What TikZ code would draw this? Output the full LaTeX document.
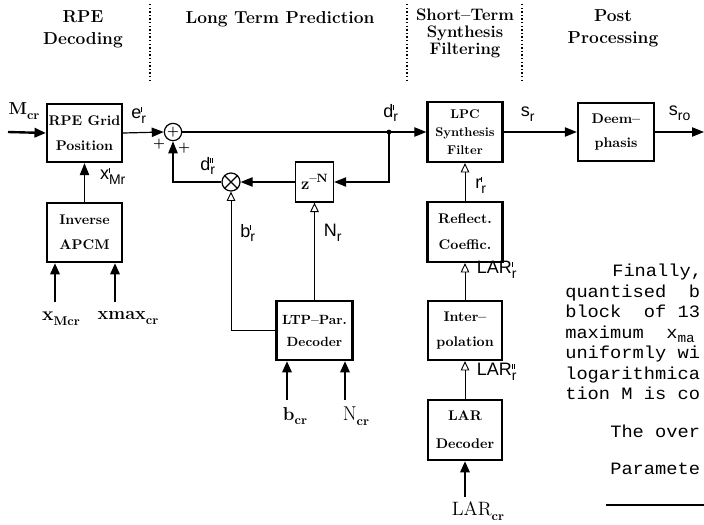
\documentclass[tikz,border=0pt]{standalone}
\usepackage{fontspec}
\setsansfont{Liberation Sans}
\newfontfamily\tyfont[FakeStretch=1.08]{Liberation Mono}
\usetikzlibrary{arrows.meta}
\newcommand\tk{\rule{0.6pt}{3.9pt}}
\newcommand\lb[3]{#1\ensuremath{^{\hbox{#2}}_{\hbox{\fontsize{10.5}{10.5}\selectfont #3}}}}
\newcommand\bsub[1]{\raisebox{-3.5pt}{\fontsize{9.5}{9.5}\selectfont\bfseries #1}}
\begin{document}
\begin{tikzpicture}[x=0.75pt,y=-0.75pt,
  hd/.style={font=\bfseries\fontsize{13}{16.5}\selectfont, align=center, inner sep=0pt},
  box/.style={draw, line width=1.7pt, align=center, inner sep=0pt,
    font=\bfseries\fontsize{10.5}{18.5}\selectfont},
  bw/.style={minimum width=56.25pt},
  bh/.style={minimum height=44.25pt},
  lab/.style={font=\sffamily\fontsize{13.5}{13.5}\selectfont, inner sep=0pt},
  ser/.style={font=\fontsize{13}{13}\selectfont, inner sep=0pt},
  sep/.style={line width=1.1pt, dash pattern=on 1.1pt off 1.6pt},
  arr/.style={line width=0.9pt, -{Triangle[length=9pt,width=7pt]}},
  oarr/.style={line width=0.7pt, -{Triangle[open,length=7pt,width=6.5pt,line width=0.7pt]}},
  inarr/.style={line width=1.8pt, -{Triangle[length=8.5pt,width=7pt]}},
  tx/.style={font=\tyfont\fontsize{13}{13}\selectfont, anchor=base west, inner sep=0pt}
]
\useasboundingbox (0,0) rectangle (704,525);
\clip (0,0) rectangle (704,525);

% headers
\node[hd] (h1) at (83,29) {RPE\\Decoding};
\node[hd] (h2) at (280,19) {Long Term Prediction};
\node[hd, font=\bfseries\fontsize{12.5}{12.8}\selectfont] (h3) at (465,33) {Short--Term\\Synthesis\\Filtering};
\node[hd] (h4) at (613,28) {Post\\Processing};
\coordinate (s1a) at (150,4); \coordinate (s1b) at (150,83);
\coordinate (s2a) at (407,4); \coordinate (s2b) at (407,83);
\coordinate (s3a) at (522,4); \coordinate (s3b) at (522,83);
\draw[sep] (s1a) -- (s1b);
\draw[sep] (s2a) -- (s2b);
\draw[sep] (s3a) -- (s3b);

% boxes
\node[box, bw, minimum height=43.5pt] (rpe) at (84.5,133) {RPE Grid\\Position};
\node[box, bw, bh] (apcm) at (84.5,232.5) {Inverse\\APCM};
\node[draw, line width=1pt, minimum width=28.5pt, minimum height=30pt, inner sep=0pt,
  font=\bfseries\fontsize{12.5}{12.5}\selectfont] (zn) at (314.5,182)
  {z\raisebox{5pt}{\fontsize{9}{9}\selectfont --N}};
\node[box, minimum width=57pt, bh, font=\bfseries\fontsize{10}{16.5}\selectfont] (ltp) at (314.5,330.5) {LTP--Par.\\Decoder};
\node[box, bw, minimum height=45pt, font=\bfseries\fontsize{9.5}{13.5}\selectfont] (lpc) at (465,132) {LPC\\Synthesis\\Filter};
\node[box, minimum width=57pt, minimum height=43.5pt] (deem) at (616,132) {Deem--\\phasis};
\node[box, bw, minimum height=45pt, font=\bfseries\fontsize{10.5}{19.5}\selectfont] (refl) at (465,232) {Reflect.\\Coeffic.};
\node[box, minimum width=55.5pt, bh] (interp) at (465,330.5) {Inter--\\polation};
\node[box, minimum width=55.5pt, minimum height=45pt, font=\bfseries\fontsize{10.5}{21}\selectfont] (lard) at (465,430) {LAR\\Decoder};

% adder and multiplier
\node[draw, circle, line width=0.9pt, minimum size=13pt, inner sep=0pt, font=\bfseries\fontsize{10}{10}\selectfont] (add) at (173,132) {+};
\node[draw, circle, line width=0.9pt, minimum size=13.5pt, inner sep=0pt] (mul) at (231,182) {};
\draw[line width=0.9pt] (mul.45) -- (mul.225) (mul.135) -- (mul.-45);
\node[font=\bfseries\fontsize{10}{10}\selectfont, inner sep=0pt] (p1) at (159,144) {+};
\node[font=\bfseries\fontsize{10}{10}\selectfont, inner sep=0pt] (p2) at (184,148) {+};

% connectors
\coordinate (min) at (8,132);
\coordinate (j) at (389,132);
\coordinate (out) at (704,132);
\coordinate (xm) at (55,302);
\coordinate (xx) at (115,302);
\coordinate (bc) at (287,400);
\coordinate (nc) at (345,400);
\coordinate (lc) at (465,497);

\draw[inarr] (min) -- (rpe.west);
\draw[arr] (rpe.east) -- (add.west);
\draw[arr] (add.east) -- (lpc.west);
\fill (j) circle[radius=1.8pt];
\draw[arr] (j) |- (zn.east);
\draw[arr] (zn.west) -- (mul.east);
\draw[arr] (mul.west) -| (add.south);
\draw[oarr] (ltp.west) -| (mul.south);
\draw[oarr] (ltp.north) -- (zn.south);
\draw[arr] (apcm.north) -- (rpe.south);
\draw[inarr] (xm) -- (xm |- apcm.south);
\draw[inarr] (xx) -- (xx |- apcm.south);
\draw[inarr] (bc) -- (bc |- ltp.south);
\draw[inarr] (nc) -- (nc |- ltp.south);
\draw[inarr] (lc) -- (lard.south);
\draw[oarr] (lard.north) -- (interp.south);
\draw[oarr] (interp.north) -- (refl.south);
\draw[oarr] (refl.north) -- (lpc.south);
\draw[arr] (lpc.east) -- (deem.west);
\draw[arr] (deem.east) -- (out);

% signal labels
\node[lab] (le) at (139,115) {\lb{e}{\tk}{r}};
\node[lab] (ld) at (391,113) {\lb{d}{\tk}{r}};
\node[lab] (ldd) at (208,166) {\lb{d}{\tk\kern0.9pt\tk}{r}};
\node[lab] (lx) at (113,176) {\lb{x}{\tk}{Mr}};
\node[lab] (lb) at (248,233) {\lb{b}{\tk}{r}};
\node[lab] (ln) at (333,233) {\lb{N}{}{r}};
\node[lab] (lr) at (481,185) {\lb{r}{\tk}{r}};
\node[lab] (lsr) at (528,114) {\lb{s}{}{r}};
\node[lab] (lsro) at (680,113) {\lb{s}{}{ro}};
\node[lab] (lla) at (497,270) {\lb{LAR}{\tk}{r}};
\node[lab] (llaa) at (497,372) {\lb{LAR}{\tk\kern0.9pt\tk}{r}};

% input labels
\node[ser, font=\bfseries\fontsize{13}{13}\selectfont] (mcr) at (24,111) {M\bsub{cr}};
\node[ser, font=\bfseries\fontsize{14.5}{14.5}\selectfont] (xmcr) at (61,319) {x\bsub{Mcr}};
\node[ser, font=\bfseries\fontsize{13.5}{13.5}\selectfont] (xmax) at (128,318) {xmax\bsub{cr}};
\node[ser, font=\bfseries\fontsize{14}{14}\selectfont] (bcr) at (295,416) {b\bsub{cr}};
\node[ser, font=\fontsize{15}{15}\selectfont] (ncr) at (356,416) {N\bsub{cr}};
\node[ser, font=\fontsize{14.5}{14.5}\selectfont] (lcr) at (478,511) {LAR\bsub{cr}};

% text at right (cut off by the picture edge)
\node[tx] (t1) at (612,276) {Finally,};
\node[tx] (t2) at (565,297) {quantised~~b};
\node[tx] (t3) at (565,317) {block~~of~13};
\node[tx] (t4) at (565,338) {maximum~~x\raisebox{-3pt}{\fontsize{10}{10}\selectfont ma}};
\node[tx] (t5) at (565,358) {uniformly~wi};
\node[tx] (t6) at (565,379) {logarithmica};
\node[tx] (t7) at (565,399) {tion~M~is~co};
\node[tx] (t8) at (610,437) {The~over};
\node[tx] (t9) at (610,474) {Paramete};
\coordinate (ra) at (606,505); \coordinate (rb) at (704,505);
\draw[line width=1pt] (ra) -- (rb);
\end{tikzpicture}
\end{document}
